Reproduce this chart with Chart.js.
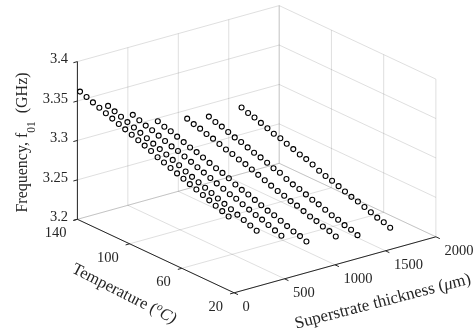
<!DOCTYPE html>
<html>
<head>
<meta charset="utf-8">
<style>
  html, body { margin: 0; padding: 0; background: #fff; }
  canvas { display: block; }
</style>
<script src="https://cdn.jsdelivr.net/npm/chart.js@4"></script>
</head>
<body>
<canvas id="chart" width="474" height="335"></canvas>
<script>
const thicknessTicks = [0, 500, 1000, 1500, 2000];
const temperatureTicks = [20, 60, 100, 140];
const frequencyTicks = [3.2, 3.25, 3.3, 3.35, 3.4];
const frequencyTickLabels = ['3.2', '3.25', '3.3', '3.35', '3.4'];

const temperatures = [140, 135, 130.1, 125.2, 120.2, 115.3, 110.3, 105.4, 100.4, 95.4, 90.5, 85.6, 80.6, 75.7, 70.7, 65.7, 60.8, 55.9, 50.9, 45.9, 41, 36.1, 31.1, 26.2];
const thicknesses = [26, 304, 549, 797, 1088, 1303, 1627];

const freqLine1 = [3.361, 3.358, 3.355, 3.352, 3.349, 3.346, 3.343, 3.340, 3.337, 3.334, 3.331, 3.328, 3.324, 3.321, 3.318, 3.315, 3.312, 3.309, 3.306, 3.303, 3.300, 3.297, 3.294, 3.291];
const freqLine2 = [3.333, 3.330, 3.327, 3.324, 3.321, 3.318, 3.315, 3.312, 3.309, 3.306, 3.303, 3.300, 3.296, 3.293, 3.290, 3.287, 3.284, 3.281, 3.278, 3.275, 3.272, 3.269, 3.266, 3.263];
const freqLine3 = [3.313, 3.310, 3.307, 3.305, 3.302, 3.299, 3.296, 3.294, 3.291, 3.288, 3.285, 3.282, 3.279, 3.276, 3.273, 3.270, 3.268, 3.265, 3.262, 3.259, 3.257, 3.254, 3.251, 3.248];
const freqLine4 = [3.296, 3.293, 3.291, 3.288, 3.285, 3.282, 3.280, 3.277, 3.274, 3.271, 3.269, 3.266, 3.262, 3.259, 3.257, 3.254, 3.251, 3.248, 3.246, 3.243, 3.240, 3.237, 3.235, 3.232];
const freqLine5 = [3.289, 3.286, 3.284, 3.281, 3.279, 3.276, 3.273, 3.271, 3.268, 3.266, 3.263, 3.260, 3.257, 3.254, 3.251, 3.249, 3.246, 3.244, 3.241, 3.238, 3.236, 3.233, 3.231, 3.228];
const freqLine6 = [3.284, 3.281, 3.279, 3.276, 3.273, 3.271, 3.268, 3.265, 3.263, 3.260, 3.257, 3.255, 3.251, 3.248, 3.246, 3.243, 3.240, 3.238, 3.235, 3.232, 3.230, 3.227, 3.225, 3.222];
const freqLine7 = [3.284, 3.281, 3.279, 3.276, 3.273, 3.270, 3.268, 3.265, 3.262, 3.259, 3.257, 3.254, 3.250, 3.247, 3.245, 3.242, 3.239, 3.236, 3.234, 3.231, 3.228, 3.225, 3.223, 3.220];
const freqLines = [freqLine1, freqLine2, freqLine3, freqLine4, freqLine5, freqLine6, freqLine7];

const SERIF = '"Liberation Serif", serif';
const GRID = 'rgba(38,38,38,0.15)';
const AXIS = '#262626';

// orthographic projection of the 3D box on the flat x/y scales
const project = (h, t, f) => ({
  x: 77.4 + 201.8 * (h / 2000) + 156.7 * ((140 - t) / 120),
  y: 219.3 - 56 * (h / 2000) + 73.5 * ((140 - t) / 120) - 157.7 * ((f - 3.2) / 0.2),
});

const lineSet = (a, b, color, order) => ({
  type: 'line',
  data: [a, b],
  borderColor: color,
  borderWidth: 1,
  pointRadius: 0,
  order,
});

const datasets = [];

// back walls and floor grid
const hMax = 2000, tMax = 140, tMin = 20, fMin = 3.2, fMax = 3.4;
frequencyTicks.forEach(f => {
  datasets.push(lineSet(project(0, tMax, f), project(hMax, tMax, f), GRID, 3));
  datasets.push(lineSet(project(hMax, tMax, f), project(hMax, tMin, f), GRID, 3));
});
thicknessTicks.forEach(h => {
  datasets.push(lineSet(project(h, tMax, fMin), project(h, tMax, fMax), GRID, 3));
  datasets.push(lineSet(project(h, tMin, fMin), project(h, tMax, fMin), GRID, 3));
});
temperatureTicks.forEach(t => {
  datasets.push(lineSet(project(hMax, t, fMin), project(hMax, t, fMax), GRID, 3));
  datasets.push(lineSet(project(0, t, fMin), project(hMax, t, fMin), GRID, 3));
});

// axis lines and their tick marks
datasets.push(lineSet(project(0, tMax, fMin), project(0, tMax, fMax), AXIS, 2));
datasets.push(lineSet(project(0, tMax, fMin), project(0, tMin, fMin), AXIS, 2));
datasets.push(lineSet(project(0, tMin, fMin), project(hMax, tMin, fMin), AXIS, 2));
frequencyTicks.forEach(f => datasets.push(lineSet(project(0, tMax, f), project(-40, tMax, f), AXIS, 2)));
temperatureTicks.forEach(t => datasets.push(lineSet(project(0, t, fMin), project(-40, t, fMin), AXIS, 2)));
thicknessTicks.forEach(h => datasets.push(lineSet(project(h, tMin, fMin), project(h, tMin - 3, fMin), AXIS, 2)));

// measured points
freqLines.forEach((line, i) => {
  datasets.push({
    type: 'scatter',
    data: line.map((f, j) => project(thicknesses[i], temperatures[j], f)),
    borderColor: '#000',
    backgroundColor: 'rgba(0,0,0,0)',
    borderWidth: 1.1,
    pointRadius: 2.5,
    order: 1,
  });
});

// draw a run of differently styled text pieces along a rotated baseline
const drawRuns = (ctx, x, y, angle, runs) => {
  ctx.save();
  ctx.translate(x, y);
  ctx.rotate(angle * Math.PI / 180);
  ctx.textAlign = 'left';
  ctx.textBaseline = 'alphabetic';
  let width = 0;
  runs.forEach(r => {
    ctx.font = r.font;
    width += ctx.measureText(r.text).width;
  });
  let cx = -width / 2;
  runs.forEach(r => {
    ctx.font = r.font;
    ctx.fillText(r.text, cx, r.dy || 0);
    cx += ctx.measureText(r.text).width;
  });
  ctx.restore();
};

const textPlugin = {
  id: 'boxText',
  afterDraw(chart) {
    const { ctx, scales } = chart;
    const at = p => ({ x: scales.x.getPixelForValue(p.x), y: scales.y.getPixelForValue(p.y) });
    ctx.save();
    ctx.fillStyle = AXIS;
    ctx.font = '14.5px ' + SERIF;
    ctx.textBaseline = 'middle';

    ctx.textAlign = 'right';
    frequencyTicks.forEach((f, i) => {
      const p = at(project(0, tMax, f));
      ctx.fillText(frequencyTickLabels[i], p.x - 9.4, p.y - 2);
    });
    temperatureTicks.forEach(t => {
      const p = at(project(0, t, fMin));
      ctx.fillText(String(t), p.x - 11, p.y + 14);
    });
    ctx.textAlign = 'left';
    thicknessTicks.forEach(h => {
      const p = at(project(h, tMin, fMin));
      ctx.fillText(String(h), p.x + 8.5, p.y + 14.5);
    });

    const base = '16px ' + SERIF;
    drawRuns(ctx, 26.5, 142.5, -90, [
      { text: 'Frequency, f', font: base },
      { text: '01', font: '11.5px ' + SERIF, dy: 8.5 },
      { text: '  (GHz)', font: base },
    ]);
    drawRuns(ctx, 122, 298, 27, [
      { text: 'Temperature (', font: '16.5px ' + SERIF },
      { text: 'o', font: 'italic 11px ' + SERIF, dy: -6 },
      { text: 'C)', font: 'italic 16.5px ' + SERIF },
    ]);
    drawRuns(ctx, 384, 306, -14.5, [
      { text: 'Superstrate thickness (', font: '17px ' + SERIF },
      { text: 'μ', font: 'italic 17px ' + SERIF },
      { text: 'm)', font: '17px ' + SERIF },
    ]);
    ctx.restore();
  },
};

new Chart(document.getElementById('chart').getContext('2d'), {
  type: 'scatter',
  data: { datasets },
  options: {
    responsive: false,
    animation: false,
    layout: { padding: 0, autoPadding: false },
    plugins: { legend: { display: false }, tooltip: { enabled: false } },
    scales: {
      x: { type: 'linear', min: 0, max: 474, display: false },
      y: { type: 'linear', min: 0, max: 335, reverse: true, display: false },
    },
  },
  plugins: [textPlugin],
});
</script>
</body>
</html>
